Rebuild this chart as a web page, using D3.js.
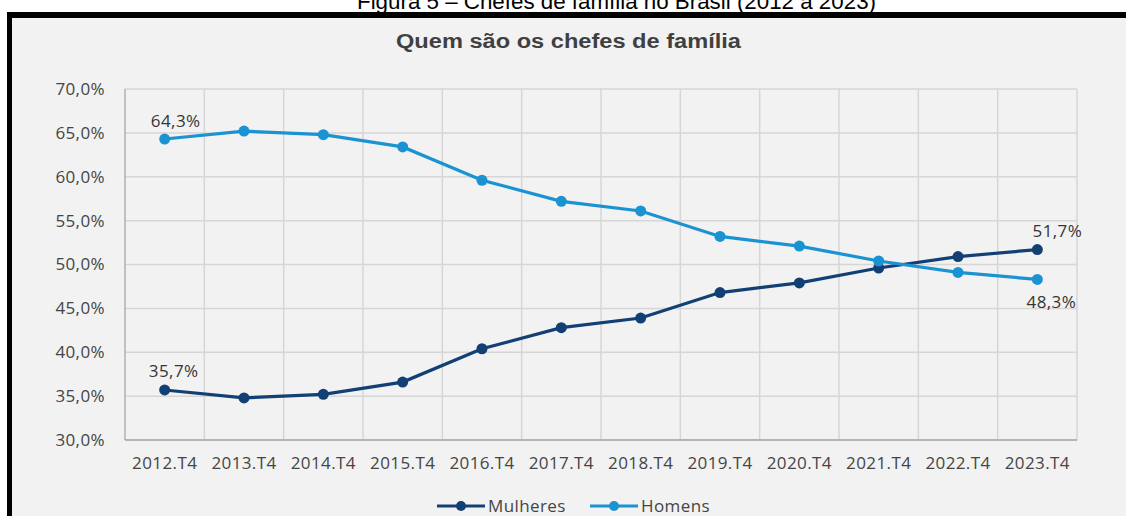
<!DOCTYPE html>
<html>
<head>
<meta charset="utf-8">
<script src="https://cdn.jsdelivr.net/npm/d3@7"></script>
<style>
  body { margin: 0; background: #f2f2f2; }
  svg { display: block; }
</style>
</head>
<body>
<div id="container"></div>
<script>
let w = 1126;
let h = 516;

// data
const periods = ["2012.T4","2013.T4","2014.T4","2015.T4","2016.T4","2017.T4","2018.T4","2019.T4","2020.T4","2021.T4","2022.T4","2023.T4"];
const mulheres = [35.7, 34.8, 35.2, 36.6, 40.4, 42.8, 43.9, 46.8, 47.9, 49.6, 50.9, 51.7];
const homens = [64.3, 65.2, 64.8, 63.4, 59.6, 57.2, 56.1, 53.2, 52.1, 50.4, 49.1, 48.3];
const yTicks = [30, 35, 40, 45, 50, 55, 60, 65, 70];

const fontAxis = "'Open Sans', 'DejaVu Sans', sans-serif";

let viz = d3.select("#container")
  .append("svg")
    .attr("width", w)
    .attr("height", h)
    .style("background-color", "#f2f2f2");

// page caption, cut by top edge
viz.append("rect").attr("x", 0).attr("y", 0).attr("width", w).attr("height", 12).attr("fill", "#fff");
viz.append("rect").attr("x", 0).attr("y", 0).attr("width", 7).attr("height", h).attr("fill", "#fff");
viz.append("text")
  .attr("x", 357).attr("y", 9)
  .attr("textLength", 519).attr("lengthAdjust", "spacingAndGlyphs")
  .style("font-family", "'Liberation Sans', Arial, sans-serif")
  .style("font-size", "22px")
  .attr("fill", "#000")
  .text("Figura 5 – Chefes de família no Brasil (2012 a 2023)");

// black frame
viz.append("rect").attr("x", 7).attr("y", 12).attr("width", w).attr("height", 6).attr("fill", "#000");
viz.append("rect").attr("x", 7).attr("y", 12).attr("width", 5).attr("height", h).attr("fill", "#000");

viz.append("text")
  .attr("x", 396).attr("y", 48)
  .attr("textLength", 345).attr("lengthAdjust", "spacingAndGlyphs")
  .style("font-family", "'Liberation Sans', Arial, sans-serif")
  .style("font-size", "20px")
  .style("font-weight", "bold")
  .attr("fill", "#404040")
  .text("Quem são os chefes de família");

let plotL = 125, plotR = 1077, plotT = 89, plotB = 440;

let x = d3.scaleBand().domain(periods).range([plotL, plotR]);
let y = d3.scaleLinear().domain([30, 70]).range([plotB, plotT]);

// gridlines
let grid = viz.append("g");
grid.selectAll(".hg").data(yTicks).join("line")
  .attr("x1", plotL).attr("x2", plotR)
  .attr("y1", d => y(d)).attr("y2", d => y(d))
  .attr("stroke", "#d6d6d6").attr("stroke-width", 1.5);
grid.selectAll(".vg").data(periods.slice(1).concat(["end"])).join("line")
  .attr("x1", d => d == "end" ? plotR : x(d)).attr("x2", d => d == "end" ? plotR : x(d))
  .attr("y1", plotT).attr("y2", plotB)
  .attr("stroke", "#d6d6d6").attr("stroke-width", 1.5);
// axis lines
grid.append("line").attr("x1", plotL).attr("x2", plotL).attr("y1", plotT).attr("y2", plotB)
  .attr("stroke", "#b0b0b0").attr("stroke-width", 1.5);
grid.append("line").attr("x1", plotL).attr("x2", plotR).attr("y1", plotB).attr("y2", plotB)
  .attr("stroke", "#a6a6a6").attr("stroke-width", 1.5);

// y axis labels
let yAxis = viz.append("g")
  .attr("transform", `translate(${plotL - 20},0)`)
  .call(d3.axisLeft(y).tickValues(yTicks).tickSize(0).tickPadding(0)
    .tickFormat(d => d3.format(".1f")(d).replace(".", ",") + "%"));
yAxis.select(".domain").remove();
yAxis.selectAll("text")
  .style("font-family", fontAxis).style("font-size", "17px").style("letter-spacing", "0.4px")
  .attr("fill", "#454545");

// x axis labels
let xAxis = viz.append("g")
  .attr("transform", `translate(0,${plotB + 17})`)
  .call(d3.axisBottom(x).tickSize(0).tickPadding(0));
xAxis.select(".domain").remove();
xAxis.selectAll("text")
  .style("font-family", fontAxis).style("font-size", "17px").style("letter-spacing", "0.4px")
  .attr("fill", "#454545");

const series = [
  {name: "Mulheres", values: mulheres, color: "#123f74"},
  {name: "Homens", values: homens, color: "#1b93d2"}
];

let line = d3.line()
  .x((d, i) => x(periods[i]) + x.bandwidth() / 2)
  .y(d => y(d));

series.forEach(s => {
  viz.append("path")
    .attr("d", line(s.values))
    .attr("fill", "none")
    .attr("stroke", s.color)
    .attr("stroke-width", 3.2);
  viz.append("g").selectAll("circle").data(s.values).join("circle")
    .attr("cx", (d, i) => x(periods[i]) + x.bandwidth() / 2)
    .attr("cy", d => y(d))
    .attr("r", 5.5)
    .attr("fill", s.color);
});

// data labels
const fmt = v => d3.format(".1f")(v).replace(".", ",") + "%";
const labels = [
  {v: homens[0], i: 0, dx: 11, dy: -12},
  {v: mulheres[0], i: 0, dx: 9, dy: -13},
  {v: mulheres[11], i: 11, dx: 20, dy: -13},
  {v: homens[11], i: 11, dx: 14, dy: 29}
];
viz.append("g").selectAll("text").data(labels).join("text")
  .attr("x", d => x(periods[d.i]) + x.bandwidth() / 2 + d.dx)
  .attr("y", d => y(d.v) + d.dy)
  .attr("text-anchor", "middle")
  .style("font-family", fontAxis).style("font-size", "17px").style("letter-spacing", "0.4px")
  .attr("fill", "#353535")
  .text(d => fmt(d.v));

// legend
let legend = viz.append("g").attr("transform", "translate(0,506)");
const legendX = [437, 590];
series.forEach((s, i) => {
  let g = legend.append("g").attr("transform", `translate(${legendX[i]},0)`);
  g.append("line").attr("x1", 0).attr("x2", 48).attr("y1", 0).attr("y2", 0)
    .attr("stroke", s.color).attr("stroke-width", 3.2);
  g.append("circle").attr("cx", 24).attr("cy", 0).attr("r", 5).attr("fill", s.color);
  g.append("text").attr("x", 51).attr("y", 6)
    .style("font-family", fontAxis).style("font-size", "17px").style("letter-spacing", "0.4px")
    .attr("fill", "#454545").text(s.name);
});
</script>
</body>
</html>
